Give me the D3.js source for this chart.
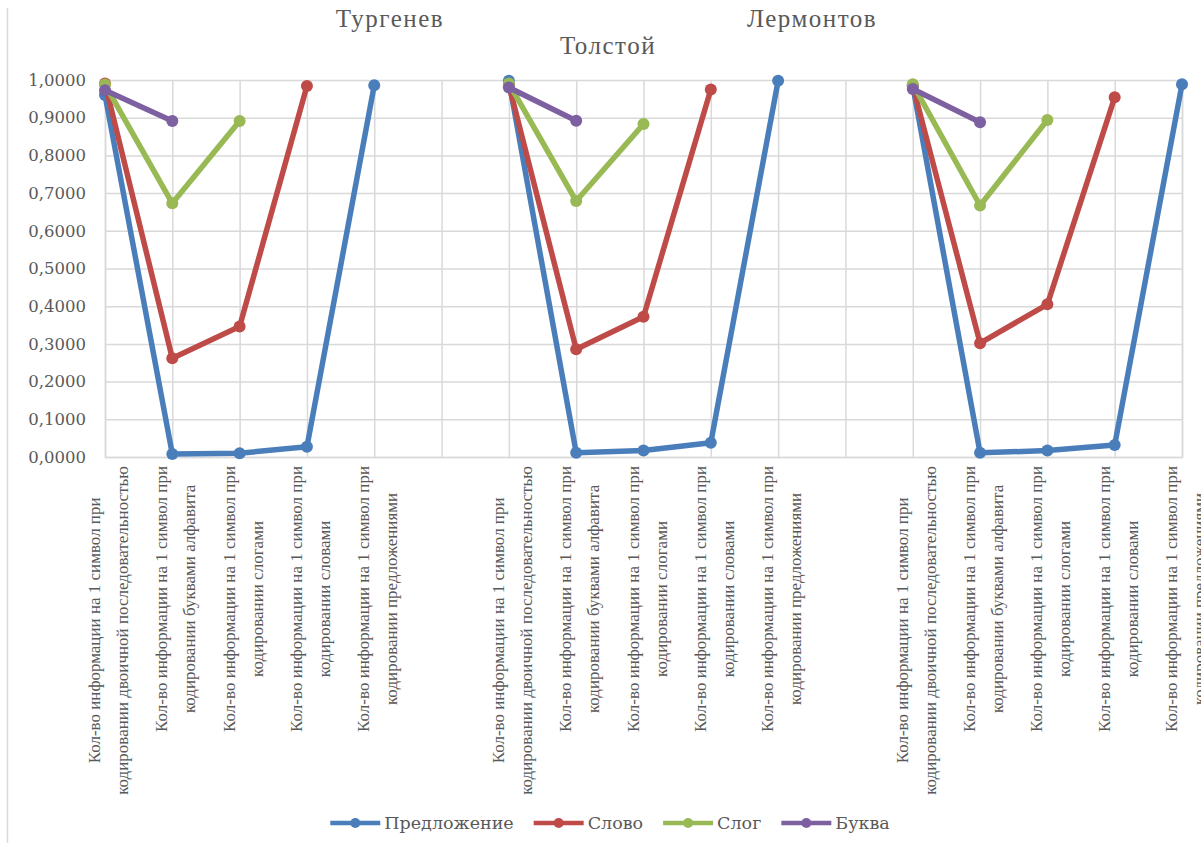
<!DOCTYPE html>
<html>
<head>
<meta charset="utf-8">
<script src="https://cdn.jsdelivr.net/npm/d3@7"></script>
<style>
  html, body { margin: 0; padding: 0; background: #fff; }
  svg { display: block; }
</style>
</head>
<body>
<svg id="chart" width="1201" height="843"></svg>
<script>
// Authors (one block of five categories each) and their chart titles
const authors = ["Тургенев", "Лермонтов", "Толстой"];

// Category labels, two lines each, repeated for every author block
const categoryLines = [
  ["Кол-во информации на 1 символ при", "кодировании двоичной последовательностью"],
  ["Кол-во информации на 1 символ при", "кодировании буквами алфавита"],
  ["Кол-во информации на 1 символ при", "кодировании слогами"],
  ["Кол-во информации на 1 символ при", "кодировании словами"],
  ["Кол-во информации на 1 символ при", "кодировании предложениями"]
];

// Series names and values per author (Тургенев, Лермонтов, Толстой)
const seriesNames = ["Предложение", "Слово", "Слог", "Буква"];
const sentenceValues = [
  [0.960, 0.008, 0.010, 0.027, 0.986],
  [0.998, 0.011, 0.017, 0.038, 0.998],
  [0.985, 0.011, 0.017, 0.032, 0.989]
];
const wordValues = [
  [0.991, 0.262, 0.346, 0.984],
  [0.987, 0.286, 0.372, 0.975],
  [0.985, 0.302, 0.405, 0.954]
];
const syllableValues = [
  [0.988, 0.673, 0.891],
  [0.991, 0.679, 0.883],
  [0.989, 0.667, 0.894]
];
const letterValues = [
  [0.973, 0.891],
  [0.980, 0.892],
  [0.976, 0.888]
];

// Y axis ticks
const yTicks = [0, 0.1, 0.2, 0.3, 0.4, 0.5, 0.6, 0.7, 0.8, 0.9, 1.0];

const colors = ["#4A7EBB", "#BE4B48", "#98B954", "#7D60A0"];
const textGray = "#595959";
const gridGray = "#D9D9D9";

const svg = d3.select("#chart");

// Each author block takes 5 category slots, with one empty slot between blocks
const slotsPerBlock = categoryLines.length + 1;
const slotCount = authors.length * slotsPerBlock - 1;
const slots = d3.range(slotCount);

const x = d3.scalePoint().domain(slots).range([105, 1182]).padding(0);
const y = d3.scaleLinear().domain([0, 1]).range([457, 80]);

// Outer chart border (left side)
svg.append("line")
  .attr("x1", 7.5).attr("x2", 7.5).attr("y1", 8).attr("y2", 843)
  .attr("stroke", gridGray).attr("stroke-width", 1.5);

// Horizontal gridlines + y axis labels
const yAxis = d3.axisLeft(y)
  .tickValues(yTicks)
  .tickSize(-(x.range()[1] - x.range()[0]))
  .tickPadding(19)
  .tickFormat(d => d3.format(".4f")(d).replace(".", ","));

const yg = svg.append("g")
  .attr("transform", `translate(${x.range()[0]},0)`)
  .call(yAxis);
yg.select(".domain").remove();
yg.selectAll(".tick line").attr("stroke", gridGray).attr("stroke-width", 1.5);
yg.selectAll(".tick text")
  .attr("fill", textGray)
  .style("font-family", "'DejaVu Serif', serif")
  .style("font-size", "16.5px");

// Vertical gridlines at every category slot
const xAxis = d3.axisBottom(x).tickSize(-(y.range()[0] - y.range()[1])).tickFormat("");
const xg = svg.append("g")
  .attr("transform", `translate(0,${y.range()[0]})`)
  .call(xAxis);
xg.select(".domain").attr("stroke", gridGray).attr("stroke-width", 1.5);
xg.selectAll(".tick line").attr("stroke", gridGray).attr("stroke-width", 1.5);

// Category labels, rotated, two centered lines per category
const labelTop = 466;
const labelsG = svg.append("g")
  .style("font-family", "'Liberation Serif', serif")
  .style("font-size", "17px")
  .attr("fill", textGray);

authors.forEach((author, a) => {
  categoryLines.forEach((lines, c) => {
    const cx = x(a * slotsPerBlock + c);
    const g = labelsG.append("g");
    const texts = lines.map(line =>
      g.append("text")
        .attr("text-anchor", "middle")
        .text(line));
    const maxLen = d3.max(texts, t => t.node().getComputedTextLength());
    const cy = labelTop + maxLen / 2;
    const offsets = [-5, 23];
    texts.forEach((t, i) => {
      t.attr("transform", `translate(${cx + offsets[i]},${cy}) rotate(-90)`);
    });
  });
});

// Series lines and markers
const allSeries = [sentenceValues, wordValues, syllableValues, letterValues];
const line = d3.line().x(d => x(d.slot)).y(d => y(d.value));

allSeries.forEach((perAuthor, s) => {
  const g = svg.append("g");
  perAuthor.forEach((vals, a) => {
    const pts = vals.map((v, i) => ({ slot: a * slotsPerBlock + i, value: v }));
    g.append("path")
      .datum(pts)
      .attr("d", line)
      .attr("fill", "none")
      .attr("stroke", colors[s])
      .attr("stroke-width", 5.5)
      .attr("stroke-linejoin", "round")
      .attr("stroke-linecap", "round");
    g.selectAll(null)
      .data(pts)
      .enter()
      .append("circle")
      .attr("cx", d => x(d.slot))
      .attr("cy", d => y(d.value))
      .attr("r", 6)
      .attr("fill", colors[s]);
  });
});

// Titles
const titleG = svg.append("g")
  .style("font-family", "'Liberation Serif', serif")
  .style("font-size", "25px")
  .style("letter-spacing", "1.5px")
  .attr("fill", textGray)
  .attr("text-anchor", "middle");
const titlePos = [[390, 27], [812, 27], [608, 54]];
authors.forEach((name, i) => {
  titleG.append("text")
    .attr("x", titlePos[i][0])
    .attr("y", titlePos[i][1])
    .text(name);
});

// Legend
const legendG = svg.append("g")
  .style("font-family", "'DejaVu Serif', serif")
  .style("font-size", "17.5px")
  .attr("fill", textGray);
let lx = 0;
const legendY = 823;
seriesNames.forEach((name, s) => {
  const item = legendG.append("g").attr("transform", `translate(${lx},0)`);
  item.append("line")
    .attr("x1", 0).attr("x2", 50).attr("y1", legendY).attr("y2", legendY)
    .attr("stroke", colors[s]).attr("stroke-width", 4.5);
  item.append("circle")
    .attr("cx", 25).attr("cy", legendY).attr("r", 5).attr("fill", colors[s]);
  const t = item.append("text")
    .attr("x", 54).attr("y", legendY).attr("dy", "0.35em")
    .text(name);
  lx += 54 + t.node().getComputedTextLength() + 20;
});
const legendWidth = lx - 20;
legendG.attr("transform", `translate(${610 - legendWidth / 2},0)`);
</script>
</body>
</html>
